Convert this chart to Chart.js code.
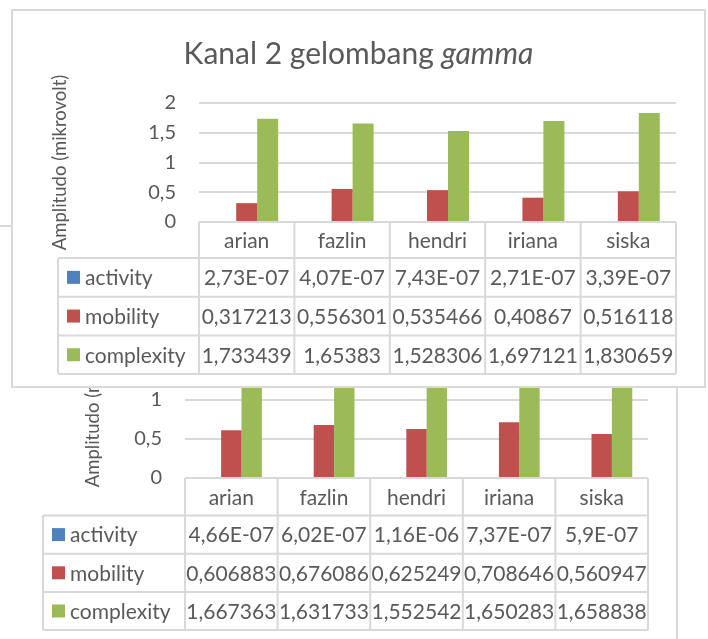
<!DOCTYPE html>
<html>
<head>
<meta charset="utf-8">
<script src="https://cdn.jsdelivr.net/npm/chart.js@4.4.0/dist/chart.umd.min.js"></script>
<style>
  body { margin: 0; width: 708px; height: 639px; overflow: hidden; background: #fff; position: relative; }
  .box { position: absolute; border: 2px solid #d9d9d9; background: #fff; line-height: 0; }
  #backBox { left: -10px; top: 225px; }
  #frontBox { left: 11px; top: 9px; }
  canvas { display: block; }
</style>
</head>
<body>
<div class="box" id="backBox"><canvas id="back" width="684" height="440"></canvas></div>
<div class="box" id="frontBox"><canvas id="front" width="691" height="375"></canvas></div>
<script>
const categories = ['arian', 'fazlin', 'hendri', 'iriana', 'siska'];
const seriesNames = ['activity', 'mobility', 'complexity'];
const seriesColors = ['#4F81BD', '#C0504D', '#9BBB59'];
const yAxisTitle = 'Amplitudo (mikrovolt)';

// front chart: Kanal 2 gelombang gamma
const titleMain = 'Kanal 2 gelombang ';
const titleItalic = 'gamma';
const k2Activity = [2.73e-7, 4.07e-7, 7.43e-7, 2.71e-7, 3.39e-7];
const k2Mobility = [0.317213, 0.556301, 0.535466, 0.40867, 0.516118];
const k2Complexity = [1.733439, 1.65383, 1.528306, 1.697121, 1.830659];

// chart behind it (only the lower part shows)
const backActivity = [4.66e-7, 6.02e-7, 1.16e-6, 7.37e-7, 5.9e-7];
const backMobility = [0.606883, 0.676086, 0.625249, 0.708646, 0.560947];
const backComplexity = [1.667363, 1.631733, 1.552542, 1.650283, 1.658838];

const yMin = 0, yMax = 2, yStep = 0.5;

const GREY = '#595959';
const LINE = '#d9d9d9';
const FONT = 'Lato';

// Excel "General" style with comma decimals
function fmt(v) {
  if (v !== 0 && Math.abs(v) < 0.001) {
    let [m, e] = v.toExponential(2).split('e');
    m = m.replace(/\.?0+$/, '');
    const exp = parseInt(e, 10);
    return m.replace('.', ',') + 'E' + (exp < 0 ? '-' : '+') + String(Math.abs(exp)).padStart(2, '0');
  }
  return String(v).replace('.', ',');
}

// data table under the plot, columns taken from the x scale
const dataTable = {
  id: 'dataTable',
  afterDraw(chart, args, opts) {
    const { ctx, chartArea: a, scales: { x } } = chart;
    const n = chart.data.labels.length;
    const colW = (a.right - a.left) / n;
    const sets = chart.data.datasets;
    const top = a.bottom;
    const headBottom = top + opts.headerH;
    const bottom = headBottom + opts.rowH * sets.length;
    const line = (x1, y1, x2, y2) => { ctx.beginPath(); ctx.moveTo(x1, y1); ctx.lineTo(x2, y2); ctx.stroke(); };

    ctx.save();
    ctx.strokeStyle = LINE;
    ctx.lineWidth = 2;
    line(a.left, top, a.right, top);
    for (let r = 0; r <= sets.length; r++) {
      const yy = headBottom + r * opts.rowH;
      line(opts.legendLeft, yy, a.right, yy);
    }
    line(opts.legendLeft, headBottom, opts.legendLeft, bottom);
    for (let i = 0; i < n; i++) {
      const left = x.getPixelForValue(i) - colW / 2;
      line(left, top, left, bottom);
    }
    line(a.right, top, a.right, bottom);

    ctx.font = opts.fontSize + 'px ' + FONT;
    ctx.fillStyle = GREY;
    ctx.textBaseline = 'middle';
    ctx.textAlign = 'center';
    chart.data.labels.forEach((lab, i) => {
      ctx.fillText(lab, x.getPixelForValue(i), top + opts.headerH / 2 + 1);
    });
    sets.forEach((ds, r) => {
      const cy = headBottom + r * opts.rowH + opts.rowH / 2;
      ctx.fillStyle = ds.backgroundColor;
      ctx.fillRect(opts.legendLeft + opts.keyPad, cy - opts.keySize / 2, opts.keySize, opts.keySize);
      ctx.fillStyle = GREY;
      ctx.textAlign = 'left';
      ctx.fillText(ds.label, opts.legendLeft + opts.keyPad + opts.keySize + 5, cy + 1);
      ctx.textAlign = 'center';
      ds.data.forEach((v, i) => ctx.fillText(fmt(v), x.getPixelForValue(i), cy + 1));
    });
    ctx.restore();
  }
};

// title with an italic part
const chartTitle = {
  id: 'chartTitle',
  afterDraw(chart, args, opts) {
    const { ctx } = chart;
    ctx.save();
    ctx.fillStyle = GREY;
    ctx.textAlign = 'left';
    ctx.textBaseline = 'alphabetic';
    const parts = opts.parts.map(p => {
      ctx.font = p.style + ' ' + opts.size + 'px ' + FONT;
      return { ...p, w: ctx.measureText(p.text).width };
    });
    let xx = chart.width / 2 - parts.reduce((s, p) => s + p.w, 0) / 2;
    parts.forEach(p => {
      ctx.font = p.style + ' ' + opts.size + 'px ' + FONT;
      ctx.fillText(p.text, xx, opts.y);
      xx += p.w;
    });
    ctx.restore();
  }
};

function makeChart(id, values, cfg) {
  return new Chart(document.getElementById(id), {
    type: 'bar',
    data: {
      labels: categories,
      datasets: seriesNames.map((name, i) => ({
        label: name,
        data: values[i],
        backgroundColor: seriesColors[i],
        categoryPercentage: 0.66,
        barPercentage: 1
      }))
    },
    plugins: [dataTable, chartTitle],
    options: {
      responsive: false,
      animation: false,
      layout: { padding: cfg.padding },
      plugins: {
        legend: { display: false },
        tooltip: { enabled: false },
        dataTable: cfg.table,
        chartTitle: cfg.title || false
      },
      scales: {
        x: { display: false },
        y: {
          min: yMin,
          max: yMax,
          ticks: { stepSize: yStep, padding: 23, color: GREY, font: { family: FONT, size: 20 }, callback: v => fmt(v) },
          grid: { color: LINE, lineWidth: 2, drawTicks: false },
          border: { display: false },
          title: { display: true, text: yAxisTitle, color: GREY, font: { family: FONT, size: 18.5 }, padding: { top: cfg.yTitlePad, bottom: 0 } },
          afterFit: s => { s.width = cfg.axisWidth; }
        }
      }
    }
  });
}

makeChart('back', [backActivity, backMobility, backComplexity], {
  padding: { top: 94, bottom: 189, left: 0, right: 28 },
  axisWidth: 193,
  yTitlePad: 90,
  table: { legendLeft: 51, headerH: 37.5, rowH: 38.2, fontSize: 21, keyPad: 9, keySize: 13 }
});

makeChart('front', [k2Activity, k2Mobility, k2Complexity], {
  padding: { top: 92, bottom: 164, left: 0, right: 28 },
  axisWidth: 186,
  yTitlePad: 36,
  table: { legendLeft: 45, headerH: 36, rowH: 38.7, fontSize: 21, keyPad: 9, keySize: 13 },
  title: { parts: [{ text: titleMain, style: '' }, { text: titleItalic, style: 'italic' }], size: 30, y: 53 }
});
</script>
</body>
</html>
